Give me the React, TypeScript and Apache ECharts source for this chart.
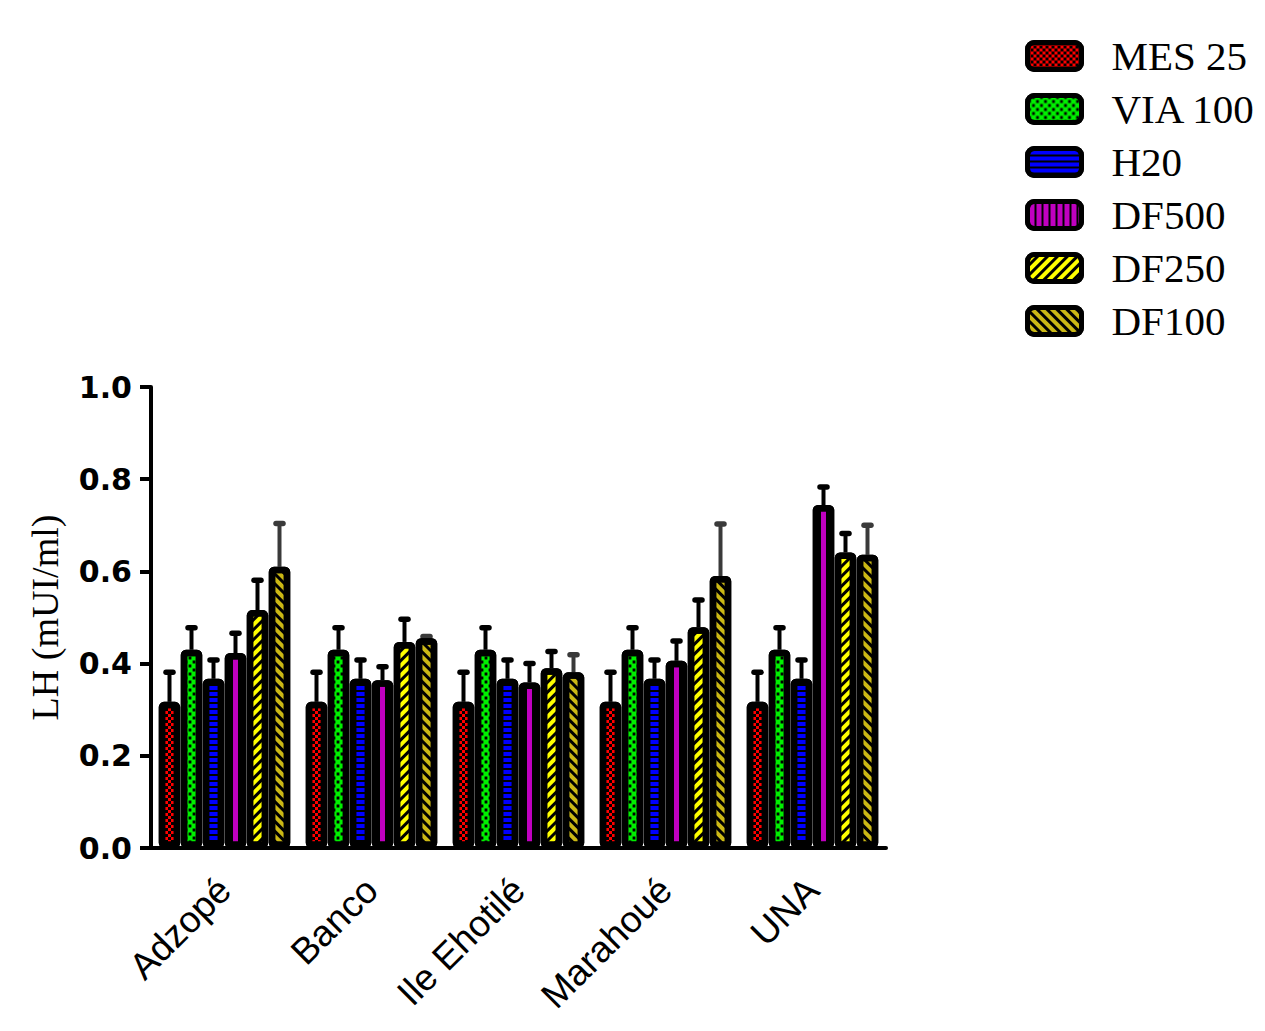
import React, { useEffect, useRef } from "react";
import * as echarts from "echarts";

const categories = ["Adzopé", "Banco", "Ile Ehotilé", "Marahoué", "UNA"];
const seriesNames = ["MES 25", "VIA 100", "H20", "DF500", "DF250", "DF100"];

const mes25 = [0.317, 0.317, 0.317, 0.317, 0.317];
const mes25Err = [0.064, 0.064, 0.064, 0.064, 0.064];
const via100 = [0.43, 0.43, 0.43, 0.43, 0.43];
const via100Err = [0.048, 0.048, 0.048, 0.048, 0.048];
const h20 = [0.367, 0.367, 0.367, 0.367, 0.367];
const h20Err = [0.041, 0.041, 0.041, 0.041, 0.041];
const df500 = [0.423, 0.364, 0.359, 0.406, 0.744];
const df500Err = [0.043, 0.029, 0.041, 0.043, 0.039];
const df250 = [0.516, 0.447, 0.39, 0.479, 0.641];
const df250Err = [0.065, 0.049, 0.036, 0.059, 0.041];
const df100 = [0.61, 0.455, 0.381, 0.59, 0.636];
const df100Err = [0.094, 0.004, 0.038, 0.113, 0.064];

const yTicks = [0, 0.2, 0.4, 0.6, 0.8, 1.0];

const values = [mes25, via100, h20, df500, df250, df100];
const errors = [mes25Err, via100Err, h20Err, df500Err, df250Err, df100Err];

const colors = ["#ff0000", "#00f000", "#0000ff", "#c000c0", "#ffff00", "#cbb815"];
const errColors = ["#000", "#000", "#000", "#000", "#000", "#3a3a3a"];

const decals: any[] = [
  { color: "#000", backgroundColor: "transparent", symbol: "rect", symbolSize: 1, dashArrayX: [[3, 3], [0, 3, 3, 0]], dashArrayY: [3, 0] },
  { color: "#000", backgroundColor: "transparent", symbol: "rect", symbolSize: 0.7, dashArrayX: [[4, 4], [0, 4, 4, 0]], dashArrayY: [4, 0] },
  { color: "#000", backgroundColor: "transparent", symbol: "rect", symbolSize: 1, dashArrayX: [1, 0], dashArrayY: [1.5, 4] },
  { color: "#000", backgroundColor: "transparent", symbol: "rect", symbolSize: 1, dashArrayX: [2, 5], dashArrayY: [1, 0] },
  { color: "#000", backgroundColor: "transparent", symbol: "rect", symbolSize: 1, dashArrayX: [1, 0], dashArrayY: [2.5, 3.5], rotation: -Math.PI / 4 },
  { color: "#000", backgroundColor: "transparent", symbol: "rect", symbolSize: 1, dashArrayX: [1, 0], dashArrayY: [2.5, 3.5], rotation: Math.PI / 4 },
];

const BAR_W = 21.5;
const STEP = 22;

export default function App() {
  const ref = useRef<HTMLDivElement>(null);
  useEffect(() => {
    if (!ref.current) return;
    const chart = echarts.init(ref.current, null, { renderer: "svg" });
    const bars = seriesNames.map((name, i) => ({
      name,
      type: "bar",
      data: values[i],
      barWidth: BAR_W,
      barGap: ((STEP - BAR_W) / BAR_W) * 100 + "%",
      z: 3,
      itemStyle: {
        color: colors[i],
        borderColor: "#000",
        borderWidth: 6.5,
        borderRadius: 2,
        decal: decals[i],
      },
    }));
    const errs = seriesNames.map((name, i) => ({
      name: "err " + name,
      type: "custom",
      z: 2,
      data: values[i].map((v, k) => [k, v, v + errors[i][k]]),
      encode: { x: 0, y: [1, 2] },
      renderItem: (params: any, api: any) => {
        const cat = api.value(0);
        const p0 = api.coord([cat, api.value(1)]);
        const p1 = api.coord([cat, api.value(2)]);
        const x = p0[0] + (i - 2.5) * STEP;
        return {
          type: "group",
          children: [
            { type: "line", shape: { x1: x, y1: p0[1], x2: x, y2: p1[1] }, style: { stroke: errColors[i], lineWidth: 4 } },
            { type: "line", shape: { x1: x - 3.5, y1: p1[1], x2: x + 3.5, y2: p1[1] }, style: { stroke: errColors[i], lineWidth: 5.5, lineCap: "round" } },
          ],
        };
      },
    }));
    chart.setOption({
      animation: false,
      backgroundColor: "#fff",
      legend: {
        data: seriesNames,
        orient: "vertical",
        left: 1020,
        top: 30.5,
        icon: "roundRect",
        itemWidth: 54,
        itemHeight: 27,
        itemGap: 12,
        itemStyle: { borderColor: "#000", borderWidth: 5 },
        textStyle: {
          fontFamily: "Liberation Serif",
          fontSize: 41,
          lineHeight: 41,
          color: "#000",
          padding: [0, 0, 0, 25],
        },
      },
      grid: { left: 151, right: 379, top: 387, bottom: 183, containLabel: false },
      xAxis: {
        type: "category",
        data: categories,
        axisLine: { lineStyle: { color: "#000", width: 4 } },
        axisTick: { alignWithLabel: true, length: 13, lineStyle: { color: "#000", width: 4 } },
        axisLabel: {
          rotate: 45,
          margin: 36,
          fontFamily: "Liberation Sans",
          fontSize: 37,
          color: "#000",
          interval: 0,
        },
      },
      yAxis: {
        type: "value",
        min: yTicks[0],
        max: yTicks[yTicks.length - 1],
        interval: 0.2,
        name: "LH (mUI/ml)",
        nameLocation: "middle",
        nameGap: 87,
        nameTextStyle: { fontFamily: "Liberation Serif", fontSize: 38, color: "#000" },
        axisLine: { show: true, lineStyle: { color: "#000", width: 4 } },
        axisTick: { show: true, length: 11, lineStyle: { color: "#000", width: 4 } },
        splitLine: { show: false },
        axisLabel: {
          margin: 19,
          fontFamily: "DejaVu Sans",
          fontWeight: "bold",
          fontSize: 30,
          color: "#000",
          formatter: (v: number) => v.toFixed(1),
        },
      },
      series: [...errs, ...bars],
    });
    return () => chart.dispose();
  }, []);
  return <div ref={ref} style={{ position: "absolute", left: 0, top: 0, width: 1265, height: 1031 }} />;
}
